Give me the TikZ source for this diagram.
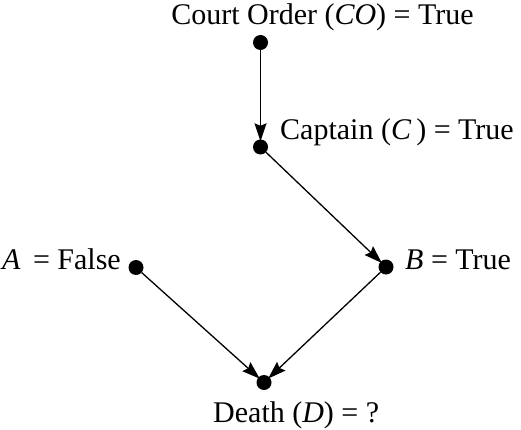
\documentclass[tikz,border=0pt]{standalone}
\usepackage{fontspec}
\setmainfont{Liberation Serif}
\usetikzlibrary{arrows.meta}
\begin{document}
\begin{tikzpicture}[x=1pt,y=1pt,
  dot/.style={circle,fill=black,inner sep=0pt,minimum size=15pt},
  lbl/.style={inner sep=0pt,font=\fontsize{30}{36}\selectfont},
  edge/.style={line width=1.3pt,-{Stealth[length=18pt,width=12pt,inset=2.5pt]},shorten >=-2pt}]
\useasboundingbox (0,0) rectangle (521,429);
\node[dot] (co) at (260.5,386.5) {};
\node[dot] (c) at (260.5,282) {};
\node[dot] (b) at (386,162) {};
\node[dot] (a) at (136,161.5) {};
\node[dot] (d) at (264,46.5) {};
\node[lbl,anchor=base] (lco) at (322.5,404) {Court Order (\textit{CO}) = True};
\node[lbl,anchor=base west] (lc) at (280,290) {Captain (\textit{C}\,) = True};
\node[lbl,anchor=base east] (la) at (121,159.5) {\textit{A}\, = False};
\node[lbl,anchor=base west] (lb) at (405,159.5) {\textit{B} = True};
\node[lbl,anchor=base west] (ld) at (213,7) {Death (\textit{D}) = ?};
\draw[edge] (co) -- (c);
\draw[edge] (c) -- (b);
\draw[edge] (a) -- (d);
\draw[edge] (b) -- (d);
\end{tikzpicture}
\end{document}
